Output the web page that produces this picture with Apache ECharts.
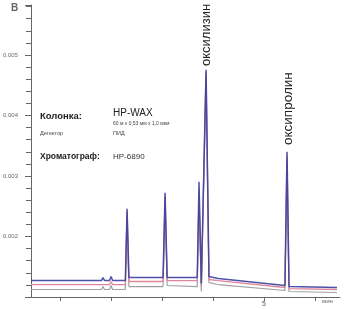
<!DOCTYPE html>
<html><head><meta charset="utf-8">
<script src="https://cdn.jsdelivr.net/npm/echarts@6/dist/echarts.min.js"></script>
<style>html,body{margin:0;padding:0;background:#fff}#c{width:348px;height:309px}</style>
</head><body><div id="c"></div>
<script>
// retention time, min
var times = [0.43, 1.81, 1.843, 1.87, 1.97, 2.0, 2.03, 2.28, 2.314, 2.35, 3.02, 3.059, 3.10, 3.69, 3.725, 3.77, 3.863, 3.92, 4.10, 5.41, 5.451, 5.49, 6.43];
// detector signal, three traces
var blueValues = [0.001272, 0.001272, 0.001322, 0.001272, 0.001272, 0.001338, 0.001272, 0.001272, 0.00246, 0.001322, 0.001322, 0.002724, 0.001322, 0.001322, 0.002906, 0.001223, 0.004754, 0.001338, 0.001305, 0.00119, 0.0034, 0.001174, 0.001157];
var pinkValues = [0.001206, 0.001206, 0.001239, 0.001206, 0.001206, 0.001256, 0.001206, 0.001206, 0.002411, 0.001256, 0.001256, 0.002675, 0.001272, 0.001272, 0.002609, 0.001173, 0.004721, 0.001289, 0.001272, 0.001157, 0.003335, 0.00114, 0.001124];
var greyValues = [0.001124, 0.001124, 0.001173, 0.001124, 0.001124, 0.00119, 0.001124, 0.001124, 0.002361, 0.001173, 0.001173, 0.002625, 0.00119, 0.001173, 0.002774, 0.001091, 0.004655, 0.001239, 0.001206, 0.001107, 0.003269, 0.001091, 0.001074];
var xTickValues = [1, 2, 3, 4, 5, 6];
var xLabelValues = [5];
var peakNames = ['оксилизин', 'оксипролин'];

function zip(t, v) { return t.map(function (x, i) { return [x, v[i]]; }); }

var chart = echarts.init(document.getElementById('c'), null, { renderer: 'canvas' });
var F = '"Liberation Sans", Arial, sans-serif';
chart.setOption({
  animation: false,
  backgroundColor: '#fff',
  grid: { left: 31, right: 8, top: 5, bottom: 12 },
  xAxis: {
    type: 'value', min: 0.43, max: 6.49,
    axisLine: { lineStyle: { color: '#666', width: 1 } },
    axisTick: { length: 4, lineStyle: { color: '#666' }, customValues: xTickValues },
    axisLabel: { customValues: xLabelValues, fontSize: 7, color: '#555', margin: 4, fontFamily: F },
    splitLine: { show: false }
  },
  yAxis: {
    type: 'value', min: 0.001, max: 0.005826, interval: 0.001,
    axisLine: { show: true, lineStyle: { color: '#666', width: 1 } },
    axisTick: { show: true, length: 6, lineStyle: { color: '#666' } },
    minorTick: { show: true, splitNumber: 5, length: 5, lineStyle: { color: '#666' } },
    axisLabel: {
      fontSize: 6, color: '#666', margin: 13, fontFamily: F,
      formatter: function (v) {
        var k = v * 1000;
        if (Math.abs(k - Math.round(k)) > 0.01 || k < 1.5) return '';
        return v.toFixed(3);
      }
    },
    splitLine: { show: false }
  },
  series: [
    { type: 'line', data: zip(times, greyValues), showSymbol: false, lineStyle: { color: '#a0a0a0', width: 1.2 }, z: 2 },
    { type: 'line', data: zip(times, pinkValues), showSymbol: false, lineStyle: { color: '#e0869a', width: 1.3 }, z: 3 },
    { type: 'line', data: zip(times, blueValues), showSymbol: false, lineStyle: { color: '#3a3f9e', width: 1.5, opacity: 0.9 }, z: 4 }
  ],
  graphic: [
    { type: 'text', left: 11, top: 3, style: { text: 'В', font: 'bold 10px ' + F, fill: '#666' } },
    { type: 'text', x: 40, y: 116, style: { text: 'Колонка:', font: 'bold 9.5px ' + F, fill: '#222', textVerticalAlign: 'middle' } },
    { type: 'text', x: 113, y: 113, style: { text: 'HP-WAX', font: '10px ' + F, fill: '#222', textVerticalAlign: 'middle' } },
    { type: 'text', x: 113, y: 124, style: { text: '60 м x 0,53 мм x 1,0 мкм', font: '5px ' + F, fill: '#444', textVerticalAlign: 'middle' } },
    { type: 'text', x: 40, y: 133, style: { text: 'Детектор', font: '5.5px ' + F, fill: '#444', textVerticalAlign: 'middle' } },
    { type: 'text', x: 113, y: 133, style: { text: 'ПИД', font: '5.5px ' + F, fill: '#444', textVerticalAlign: 'middle' } },
    { type: 'text', x: 40, y: 157, style: { text: 'Хроматограф:', font: 'bold 8.5px ' + F, fill: '#222', textVerticalAlign: 'middle' } },
    { type: 'text', x: 113, y: 157, style: { text: 'HP-6890', font: '8px ' + F, fill: '#333', textVerticalAlign: 'middle' } },
    { type: 'text', x: 322, y: 301, style: { text: 'мин', font: '6px ' + F, fill: '#666', textVerticalAlign: 'middle' } },
    { type: 'text', x: 206, y: 66, rotation: Math.PI / 2, style: { text: peakNames[0], font: '13px ' + F, fill: '#222', textAlign: 'left', textVerticalAlign: 'middle' } },
    { type: 'text', x: 288, y: 145, rotation: Math.PI / 2, style: { text: peakNames[1], font: '13.5px ' + F, fill: '#222', textAlign: 'left', textVerticalAlign: 'middle' } }
  ]
});
</script></body></html>
